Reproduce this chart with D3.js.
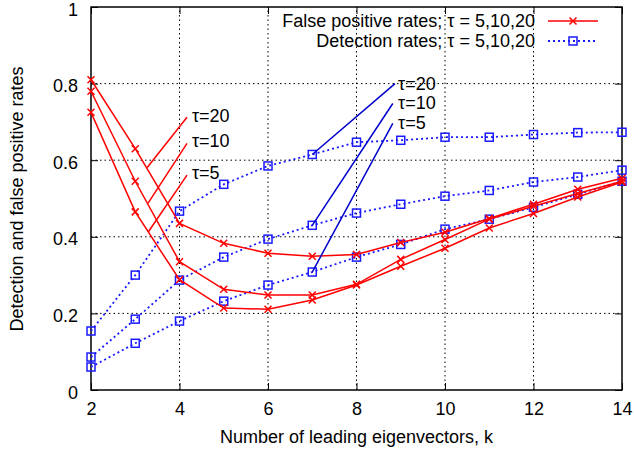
<!DOCTYPE html>
<html lang="en">
  <head>
    <meta charset="utf-8">
    <title>Detection and false positive rates</title>
    <script src="https://d3js.org/d3.v7.min.js"></script>
    <style>
      html, body {
        padding: 0px;
        margin: 0px;
        background: #fff;
      }
      svg {
        font-family: "Liberation Sans", Arial, sans-serif;
        display: block;
      }
      .grid line {
        stroke: #000;
        stroke-width: 1;
        stroke-dasharray: 1.5,3;
      }
      .fp path.line {
        fill: none;
        stroke: #ff0000;
        stroke-width: 1.5;
      }
      .det path.line {
        fill: none;
        stroke: #1a1aff;
        stroke-width: 1.8;
        stroke-dasharray: 2,3;
      }
      .mark-x {
        stroke: #ff0000;
        stroke-width: 1.5;
        fill: none;
      }
      .mark-sq {
        stroke: #1a1aff;
        stroke-width: 1.5;
        fill: none;
      }
      text {
        fill: #000;
      }
    </style>
  </head>
  <body>
    <div id="chart"></div>
    <script>
      // values
      var ks = [2, 3, 4, 5, 6, 7, 8, 9, 10, 11, 12, 13, 14];

      var fp20 = [0.81, 0.63, 0.435, 0.383, 0.357, 0.349, 0.354, 0.385, 0.412, 0.448, 0.485, 0.524, 0.553];
      var fp10 = [0.78, 0.545, 0.335, 0.263, 0.248, 0.248, 0.276, 0.341, 0.393, 0.446, 0.48, 0.513, 0.545];
      var fp5  = [0.725, 0.465, 0.288, 0.214, 0.211, 0.235, 0.274, 0.323, 0.37, 0.423, 0.461, 0.504, 0.543];

      var det20 = [0.154, 0.30, 0.467, 0.537, 0.585, 0.615, 0.647, 0.652, 0.66, 0.66, 0.667, 0.672, 0.673];
      var det10 = [0.086, 0.185, 0.287, 0.347, 0.394, 0.43, 0.462, 0.485, 0.506, 0.521, 0.543, 0.556, 0.574];
      var det5  = [0.060, 0.122, 0.18, 0.232, 0.274, 0.308, 0.347, 0.38, 0.42, 0.446, 0.477, 0.511, 0.545];

      var xTicks = [2, 4, 6, 8, 10, 12, 14];
      var yTicks = [0, 0.2, 0.4, 0.6, 0.8, 1];

      var legendLabels = ["False positive rates; \u03c4 = 5,10,20", "Detection rates; \u03c4 = 5,10,20"];

      // tau labels with pointer lines, in data units [k0, v0, k1, v1, label k, label v]
      var fpNotes = [
        ["\u03c4=20", 3.27, 0.581, 4.17, 0.712, 4.28, 0.717],
        ["\u03c4=10", 3.29, 0.488, 4.17, 0.644, 4.28, 0.652],
        ["\u03c4=5", 3.29, 0.412, 4.17, 0.561, 4.28, 0.568]
      ];
      var detNotes = [
        ["\u03c4=20", 7, 0.615, 8.87, 0.80, 8.94, 0.80],
        ["\u03c4=10", 7, 0.43, 8.82, 0.748, 8.94, 0.75],
        ["\u03c4=5", 7, 0.308, 8.82, 0.696, 8.94, 0.698]
      ];

      var W = 634, H = 450;
      var m = {top: 7, right: 12, bottom: 60, left: 91};
      var fs = "18px";

      var x = d3.scaleLinear().domain([2, 14]).range([m.left, W - m.right]);
      var y = d3.scaleLinear().domain([0, 1]).range([H - m.bottom, m.top]);

      var svg = d3.select("#chart").append("svg")
        .attr("width", W)
        .attr("height", H);

      // dotted grid
      var grid = svg.append("g").attr("class", "grid");
      grid.selectAll(".gx")
        .data(xTicks.slice(1, -1))
        .enter().append("line")
        .attr("x1", function(d) { return x(d); })
        .attr("x2", function(d) { return x(d); })
        .attr("y1", y(0))
        .attr("y2", y(1));
      grid.selectAll(".gy")
        .data(yTicks.slice(1, -1))
        .enter().append("line")
        .attr("x1", x(2))
        .attr("x2", x(14))
        .attr("y1", function(d) { return y(d); })
        .attr("y2", function(d) { return y(d); });

      // axes, gnuplot style: inward ticks mirrored on all sides
      var tl = 7;
      svg.append("g")
        .attr("transform", "translate(0," + y(0) + ")")
        .call(d3.axisBottom(x).tickValues(xTicks).tickSize(-tl).tickPadding(tl + 5).tickFormat(d3.format("d")))
        .call(function(g) { g.select(".domain").remove(); });
      svg.append("g")
        .attr("transform", "translate(0," + y(1) + ")")
        .call(d3.axisTop(x).tickValues(xTicks).tickSize(-tl).tickFormat(""))
        .call(function(g) { g.select(".domain").remove(); });
      svg.append("g")
        .attr("class", "yaxis")
        .attr("transform", "translate(" + x(2) + ",0)")
        .call(d3.axisLeft(y).tickValues(yTicks).tickSize(-tl).tickPadding(tl + 6).tickFormat(d3.format("")))
        .call(function(g) { g.select(".domain").remove(); });
      svg.append("g")
        .attr("transform", "translate(" + x(14) + ",0)")
        .call(d3.axisRight(y).tickValues(yTicks).tickSize(-tl).tickFormat(""))
        .call(function(g) { g.select(".domain").remove(); });

      svg.selectAll(".tick text")
        .style("font-size", fs)
        .style("font-family", "Liberation Sans, Arial, sans-serif")
        .attr("fill", "#000");
      svg.selectAll(".yaxis .tick text").attr("dy", "0.45em");
      svg.selectAll(".tick line").attr("stroke", "#000");

      svg.append("rect")
        .attr("x", x(2))
        .attr("y", y(1))
        .attr("width", x(14) - x(2))
        .attr("height", y(0) - y(1))
        .attr("fill", "none")
        .attr("stroke", "#000")
        .attr("stroke-width", 1.5);

      var line = d3.line()
        .x(function(d) { return x(d[0]); })
        .y(function(d) { return y(d[1]); });

      function pairs(vals) {
        return ks.map(function(k, i) { return [k, vals[i]]; });
      }

      function xMark(sel, s) {
        sel.append("path")
          .attr("class", "mark-x")
          .attr("d", "M" + (-s) + "," + (-s) + "L" + s + "," + s + "M" + (-s) + "," + s + "L" + s + "," + (-s));
      }
      function sqMark(sel, s) {
        sel.append("rect")
          .attr("class", "mark-sq")
          .attr("x", -s).attr("y", -s)
          .attr("width", 2 * s).attr("height", 2 * s);
      }

      // detection rates
      var det = svg.append("g").attr("class", "det");
      [det20, det10, det5].forEach(function(s) {
        det.append("path").attr("class", "line").attr("d", line(pairs(s)));
        det.selectAll(null)
          .data(pairs(s))
          .enter().append("g")
          .attr("transform", function(d) { return "translate(" + x(d[0]) + "," + y(d[1]) + ")"; })
          .call(sqMark, 4);
      });

      // false positive rates
      var fp = svg.append("g").attr("class", "fp");
      [fp20, fp10, fp5].forEach(function(s) {
        fp.append("path").attr("class", "line").attr("d", line(pairs(s)));
        fp.selectAll(null)
          .data(pairs(s))
          .enter().append("g")
          .attr("transform", function(d) { return "translate(" + x(d[0]) + "," + y(d[1]) + ")"; })
          .call(xMark, 3.5);
      });

      // tau annotations
      function notes(data, color) {
        var g = svg.append("g");
        g.selectAll("line")
          .data(data)
          .enter().append("line")
          .attr("x1", function(d) { return x(d[1]); })
          .attr("y1", function(d) { return y(d[2]); })
          .attr("x2", function(d) { return x(d[3]); })
          .attr("y2", function(d) { return y(d[4]); })
          .attr("stroke", color)
          .attr("stroke-width", 1.5);
        g.selectAll("text")
          .data(data)
          .enter().append("text")
          .attr("x", function(d) { return x(d[5]); })
          .attr("y", function(d) { return y(d[6]); })
          .attr("dy", "0.35em")
          .style("font-size", fs)
          .text(function(d) { return d[0]; });
      }
      notes(fpNotes, "#ff0000");
      notes(detNotes, "#0000cc");

      // legend
      var lg = svg.append("g");
      var lx0 = 548, lx1 = 598, ltx = 535;
      [0, 1].forEach(function(i) {
        var ly = 21 + i * 20;
        lg.append("text")
          .attr("x", ltx)
          .attr("y", ly)
          .attr("dy", "0.35em")
          .attr("text-anchor", "end")
          .style("font-size", fs)
          .text(legendLabels[i]);
        var row = lg.append("g").attr("class", i == 0 ? "fp" : "det");
        row.append("path").attr("class", "line").attr("d", "M" + lx0 + "," + ly + "L" + lx1 + "," + ly);
        var mk = row.append("g").attr("transform", "translate(" + (lx0 + lx1) / 2 + "," + ly + ")");
        if (i == 0) xMark(mk, 3.5); else sqMark(mk, 4);
      });

      // axis titles
      svg.append("text")
        .attr("x", (x(2) + x(14)) / 2)
        .attr("y", 437)
        .attr("dy", "0.35em")
        .attr("text-anchor", "middle")
        .style("font-size", fs)
        .text("Number of leading eigenvectors, k");
      svg.append("text")
        .attr("transform", "translate(17," + 199 + ") rotate(-90)")
        .attr("dy", "0.35em")
        .attr("text-anchor", "middle")
        .style("font-size", fs)
        .text("Detection and false positive rates");
    </script>
  </body>
</html>
